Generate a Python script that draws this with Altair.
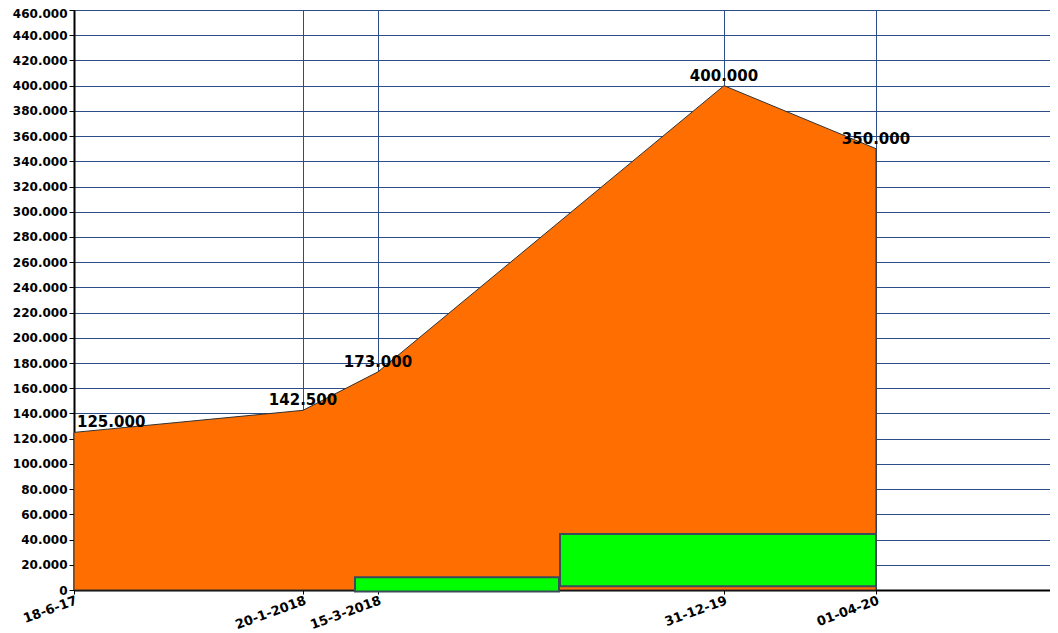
import altair as alt
import pandas as pd

# Positions along the chart's irregular x axis (axis units), with their date labels
point_pos = [0, 229, 304, 650, 802]
point_labels = ["18-6-17", "20-1-2018", "15-3-2018", "31-12-19", "01-04-20"]
point_values = [125000, 142500, 173000, 400000, 350000]

# Green blocks
bar_start = [281, 486]
bar_end = [485, 802]
bar_low = [-1200, 3000]
bar_high = [10200, 44500]

y_ticks = [float(v) for v in range(0, 460001, 20000)]

pts = pd.DataFrame({"x": point_pos, "v": point_values, "lab": point_labels})
bars = pd.DataFrame({"x": bar_start, "x2": bar_end, "y": bar_low, "y2": bar_high})

FONT = "DejaVu Sans"
GRID = "#2d4d88"

x_expr = "''"
for p, l in reversed(list(zip(point_pos, point_labels))):
    x_expr = f"datum.value == {p} ? '{l}' : ({x_expr})"

xscale = alt.Scale(domain=[0, 976], nice=False, zero=False)
yscale = alt.Scale(domain=[0, 460000], nice=False)

xaxis = alt.Axis(values=point_pos, labelExpr=x_expr, labelAngle=-20, title=None,
                 grid=True, gridColor=GRID, gridWidth=1, domainColor="black",
                 domainWidth=2, tickColor="black", tickSize=4, labelFont=FONT,
                 labelFontWeight="bold", labelFontSize=13, labelColor="black",
                 labelPadding=0, labelOverlap=False)
yaxis = alt.Axis(values=y_ticks, labelExpr="replace(format(datum.value, ','), ',', '.')",
                 title=None, grid=True, gridColor=GRID, gridWidth=1,
                 domainColor="black", domainWidth=2, tickColor="black", tickSize=5,
                 labelFont=FONT, labelFontWeight="bold", labelFontSize=12,
                 labelColor="black", labelPadding=2, labelOverlap=False,
                 labelFlush=False,
                 labelOffset={"condition": {"test": "datum.value >= 460000", "value": 3},
                              "value": 0})

X = lambda f: alt.X(f, scale=xscale, axis=xaxis)
Y = lambda f: alt.Y(f, scale=yscale, axis=yaxis)

area = alt.Chart(pts).mark_area(color="#ff6e00", stroke="#333333", strokeWidth=1).encode(
    x=X("x:Q"), y=Y("v:Q"),
)

rects = alt.Chart(bars).mark_rect(color="#00ff00", stroke="#3c4b5c", strokeWidth=2).encode(
    x=X("x:Q"), x2="x2:Q", y=Y("y:Q"), y2="y2:Q",
)

base_txt = alt.Chart(pts).transform_calculate(
    t="replace(format(datum.v, ','), ',', '.')"
)
txt_first = base_txt.transform_filter("datum.x == 0").mark_text(
    font=FONT, fontWeight="bold", fontSize=15, color="black",
    align="left", baseline="alphabetic", dx=3, dy=-5
).encode(x=X("x:Q"), y=Y("v:Q"), text="t:N")
txt_rest = base_txt.transform_filter("datum.x != 0").mark_text(
    font=FONT, fontWeight="bold", fontSize=15, color="black",
    align="center", baseline="alphabetic", dy=-5
).encode(x=X("x:Q"), y=Y("v:Q"), text="t:N")

chart = alt.layer(area, rects, txt_first, txt_rest).properties(
    width=976, height=580,
    autosize=alt.AutoSizeParams(type="none"),
    padding={"left": 66, "top": 2, "right": 0, "bottom": 41},
).configure_view(stroke=None).configure(background="white")

chart.save("out.html", embed_options={"renderer": "svg", "actions": False})
